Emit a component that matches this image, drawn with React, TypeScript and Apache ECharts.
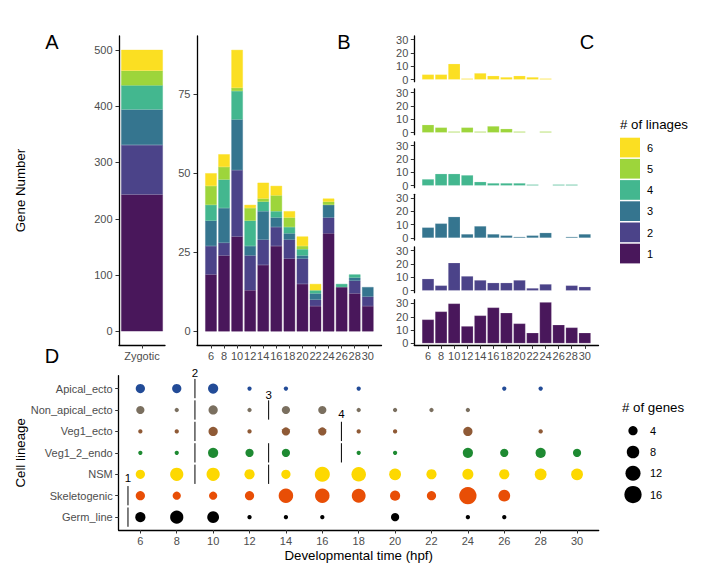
import React, { useEffect, useRef } from "react";
import * as echarts from "echarts";

const hours = [6, 8, 10, 12, 14, 16, 18, 20, 22, 24, 26, 28, 30];
const lineageCounts = [1, 2, 3, 4, 5, 6];
const zygotic = [243, 88, 63, 43, 26, 37];

// genes per time point, one list per number of lineages
const lin1 = [18, 24, 30, 13, 21, 27, 23, 15, 8, 31, 14, 12, 8];
const lin2 = [9, 4, 21, 11, 8, 6, 6, 8, 2, 5, 0, 4, 3];
const lin3 = [8, 11, 16, 3, 9, 3, 2, 1, 2, 4, 0, 1, 3];
const lin4 = [5, 9, 9, 8, 3, 2, 2, 2, 1, 0, 1, 1, 0];
const lin5 = [6, 4, 1, 4, 1, 5, 3, 1, 0, 1, 0, 0, 0];
const lin6 = [4, 4, 12, 1, 5, 3, 2, 3, 2, 1, 0, 0, 0];
const linSeries = [lin1, lin2, lin3, lin4, lin5, lin6];
const linColors = ["#49175b", "#4b4389", "#35758f", "#43b78f", "#9dd53b", "#fbdf22"];

// bottom to top on the y axis
const cellLineages = [
  "Germ_line",
  "Skeletogenic",
  "NSM",
  "Veg1_2_endo",
  "Veg1_ecto",
  "Non_apical_ecto",
  "Apical_ecto",
];
const cellColors = ["#000000", "#e84e06", "#fdd800", "#1e8a32", "#8f5a36", "#7a6f5f", "#224b97"];

// [hour, genes]
const germLine = [[6, 5], [8, 9], [10, 7], [12, 1], [14, 1], [16, 1], [20, 3], [24, 1], [26, 1]];
const skeletogenic = [[6, 4], [8, 3], [10, 3], [12, 4], [14, 11], [16, 11], [18, 10], [20, 5], [22, 4], [24, 16], [26, 7]];
const nsm = [[6, 4], [8, 9], [10, 9], [12, 5], [14, 4], [16, 12], [18, 11], [20, 7], [22, 5], [24, 6], [26, 5], [28, 7], [30, 7]];
const endo = [[6, 1], [8, 1], [10, 5], [12, 3], [14, 3], [18, 1], [20, 1], [24, 5], [26, 3], [28, 5], [30, 3]];
const vegEcto = [[6, 1], [8, 1], [10, 4], [12, 1], [14, 3], [16, 3], [18, 1], [20, 1], [24, 4], [28, 1]];
const nonApical = [[6, 3], [8, 1], [10, 4], [12, 1], [14, 3], [16, 3], [18, 1], [20, 1], [22, 1], [24, 1]];
const apical = [[6, 4], [8, 4], [10, 5], [12, 1], [14, 1], [18, 1], [26, 1], [28, 1]];
const dotRows = [germLine, skeletogenic, nsm, endo, vegEcto, nonApical, apical];

const geneLegend = [4, 8, 12, 16];

// numbered marks in panel D: hour position, rows covered, y of the number
const marks = [
  { label: "1", x: 5.32, rows: [0, 1], labelY: 1.82 },
  { label: "2", x: 9, rows: [2, 3, 4, 5, 6], labelY: 6.72 },
  { label: "3", x: 13.05, rows: [2, 3, 5], labelY: 5.72 },
  { label: "4", x: 17.05, rows: [3, 4], labelY: 4.79 },
];

const FONT = "Liberation Sans";
const GREY = "#4d4d4d";

const dotSize = (v: number) => 4.3 + 13 * Math.pow((v - 1) / 15, 0.6);

const axisBase = (show = true) => ({
  show,
  axisLine: { show: true, onZero: false, lineStyle: { color: "#000", width: 1.3 } },
  axisTick: { show: true, length: 3.5, lineStyle: { color: "#333", width: 1 } },
  splitLine: { show: false },
});

const labelBase = { color: GREY, fontSize: 11, fontFamily: FONT };
const nameStyle = { color: "#000", fontSize: 13.3, fontFamily: FONT };

function buildOption() {
  const grids: any[] = [];
  const xAxes: any[] = [];
  const yAxes: any[] = [];
  const series: any[] = [];

  // A
  grids.push({ left: 119, top: 36, width: 46, height: 309 });
  xAxes.push({
    ...axisBase(),
    type: "category",
    data: ["Zygotic"],
    gridIndex: 0,
    axisTick: { show: true, alignWithLabel: true, length: 3.5, lineStyle: { color: "#333" } },
    axisLabel: { ...labelBase, margin: 5.5 },
  });
  const aTicks = [0, 100, 200, 300, 400, 500];
  yAxes.push({
    ...axisBase(),
    type: "value",
    gridIndex: 0,
    min: -24.3,
    max: 524.7,
    name: "Gene Number",
    nameLocation: "middle",
    nameGap: 92,
    nameMoveOverlap: false,
    nameTextStyle: nameStyle,
    axisTick: { ...axisBase().axisTick, customValues: aTicks },
    axisLabel: { ...labelBase, margin: 6.5, customValues: aTicks },
  });
  zygotic.forEach((v, i) => {
    series.push({
      type: "bar",
      xAxisIndex: 0,
      yAxisIndex: 0,
      stack: "a",
      barWidth: 41.6,
      data: [v],
      // same colour stroke closes the hairline seam between stacked rects
      itemStyle: { color: linColors[i], borderColor: linColors[i], borderWidth: 0.4 },
    });
  });

  // B
  const hourTicks = { customValues: hours };
  grids.push({ left: 197, top: 36, width: 184.5, height: 309 });
  xAxes.push({
    ...axisBase(),
    type: "value",
    gridIndex: 1,
    min: 3.86,
    max: 32.1,
    axisTick: { ...axisBase().axisTick, ...hourTicks },
    axisLabel: { ...labelBase, margin: 5.5, ...hourTicks },
  });
  const bTicks = [0, 25, 50, 75];
  yAxes.push({
    ...axisBase(),
    type: "value",
    gridIndex: 1,
    min: -4.3,
    max: 93.4,
    axisTick: { ...axisBase().axisTick, customValues: bTicks },
    axisLabel: { ...labelBase, margin: 6.5, customValues: bTicks },
  });
  linSeries.forEach((vals, i) => {
    series.push({
      type: "bar",
      xAxisIndex: 1,
      yAxisIndex: 1,
      stack: "b",
      barWidth: 11.4,
      encode: { x: 1, y: 0 },
      data: vals.map((v, j) => ({
        value: [v, hours[j]],
        itemStyle: { borderWidth: v ? 0.4 : 0 },
      })),
      itemStyle: { color: linColors[i], borderColor: linColors[i] },
    });
  });

  // C, lineage 6 on top
  const rowTops = [36, 89, 142, 194.3, 247, 299.7];
  const cTicks = [0, 10, 20, 30];
  rowTops.forEach((top, r) => {
    const idx = grids.length;
    const lin = 5 - r;
    grids.push({ left: 414.3, top, width: 184.2, height: 45.7 });
    xAxes.push({
      ...axisBase(r === 5),
      type: "value",
      gridIndex: idx,
      min: 3.9,
      max: 32.1,
      axisTick: { ...axisBase().axisTick, ...hourTicks },
      axisLabel: { ...labelBase, margin: 5.5, ...hourTicks },
    });
    yAxes.push({
      ...axisBase(),
      type: "value",
      gridIndex: idx,
      min: -1.5,
      max: 32.8,
      axisTick: { ...axisBase().axisTick, customValues: cTicks },
      axisLabel: { ...labelBase, margin: 6, customValues: cTicks },
    });
    series.push({
      type: "bar",
      xAxisIndex: idx,
      yAxisIndex: idx,
      barWidth: 12.2,
      encode: { x: 1, y: 0 },
      data: linSeries[lin].map((v, j) => ({
        value: [v, hours[j]],
        itemStyle: { borderWidth: v ? 0.5 : 0 },
      })),
      itemStyle: { color: linColors[lin], borderColor: "rgba(255,255,255,0.35)" },
    });
  });

  // D
  const d = grids.length;
  grids.push({ left: 118.7, top: 375.7, width: 480, height: 154.3 });
  xAxes.push({
    ...axisBase(),
    type: "value",
    gridIndex: d,
    min: 4.81,
    max: 31.19,
    name: "Developmental time (hpf)",
    nameLocation: "middle",
    nameGap: 19,
    nameMoveOverlap: false,
    nameTextStyle: nameStyle,
    axisTick: { ...axisBase().axisTick, ...hourTicks },
    axisLabel: { ...labelBase, margin: 5.5, ...hourTicks },
  });
  const rowIdx = cellLineages.map((_, i) => i);
  yAxes.push({
    ...axisBase(),
    type: "value",
    gridIndex: d,
    min: -0.6,
    max: 6.6,
    name: "Cell lineage",
    nameLocation: "middle",
    nameGap: 91.7,
    nameMoveOverlap: false,
    nameTextStyle: nameStyle,
    axisTick: { ...axisBase().axisTick, customValues: rowIdx },
    axisLabel: {
      ...labelBase,
      margin: 6,
      customValues: rowIdx,
      formatter: (v: number) => cellLineages[v],
    },
  });
  dotRows.forEach((row, i) => {
    series.push({
      type: "scatter",
      xAxisIndex: d,
      yAxisIndex: d,
      data: row.map(([h, n]) => [h, i, n]),
      symbolSize: (v: number[]) => dotSize(v[2]),
      itemStyle: { color: cellColors[i], opacity: 1 },
    });
  });
  marks.forEach((m) => {
    m.rows.forEach((r) => {
      series.push({
        type: "line",
        xAxisIndex: d,
        yAxisIndex: d,
        clip: false,
        symbol: "none",
        data: [
          [m.x, r - 0.45],
          [m.x, r + 0.45],
        ],
        lineStyle: { color: "#000", width: 1 },
      });
    });
    series.push({
      type: "scatter",
      xAxisIndex: d,
      yAxisIndex: d,
      clip: false,
      symbolSize: 0,
      data: [[m.x, m.labelY]],
      itemStyle: { color: "#000", opacity: 1 },
      label: {
        show: true,
        position: "inside",
        formatter: m.label,
        color: "#000",
        textBorderWidth: 0,
        fontSize: 11.5,
        fontFamily: FONT,
      },
    });
  });

  const letter = (text: string, x: number, y: number) => ({
    type: "text",
    x,
    y,
    style: { text, fill: "#000", font: `20px "${FONT}"`, textAlign: "center", textVerticalAlign: "middle" },
  });
  const legendText = (text: string, x: number, y: number, size = 11) => ({
    type: "text",
    x,
    y,
    style: { text, fill: "#000", font: `${size}px "${FONT}"`, textAlign: "left", textVerticalAlign: "middle" },
  });

  const graphic: any[] = [
    letter("A", 52, 41.5),
    letter("B", 344, 41.5),
    letter("C", 587, 41.5),
    letter("D", 52, 356),
    legendText("# of linages", 620, 124, 13.3),
    legendText("# of genes", 622, 407.7, 13.3),
  ];
  lineageCounts.forEach((n, i) => {
    const y = 243.7 - i * 21.2;
    graphic.push({
      type: "rect",
      shape: { x: 620, y, width: 20, height: 19.7 },
      style: { fill: linColors[i] },
    });
    graphic.push(legendText(String(n), 647, y + 10));
  });
  geneLegend.forEach((n, i) => {
    const y = 430.7 + i * 21.3;
    graphic.push({
      type: "circle",
      shape: { cx: 633, cy: y, r: dotSize(n) / 2 },
      style: { fill: "#000" },
    });
    graphic.push(legendText(String(n), 650, y));
  });

  return {
    animation: false,
    backgroundColor: "#fff",
    textStyle: { fontFamily: FONT },
    grid: grids,
    xAxis: xAxes,
    yAxis: yAxes,
    series,
    graphic,
  };
}

export default function App() {
  const chartRef = useRef<HTMLDivElement>(null);

  useEffect(() => {
    document.body.style.margin = "0";
    if (!chartRef.current) return;
    const chart = echarts.init(chartRef.current, undefined, { renderer: "svg" });
    chart.setOption(buildOption());
    return () => chart.dispose();
  }, []);

  return <div ref={chartRef} style={{ width: 710, height: 577 }} />;
}
